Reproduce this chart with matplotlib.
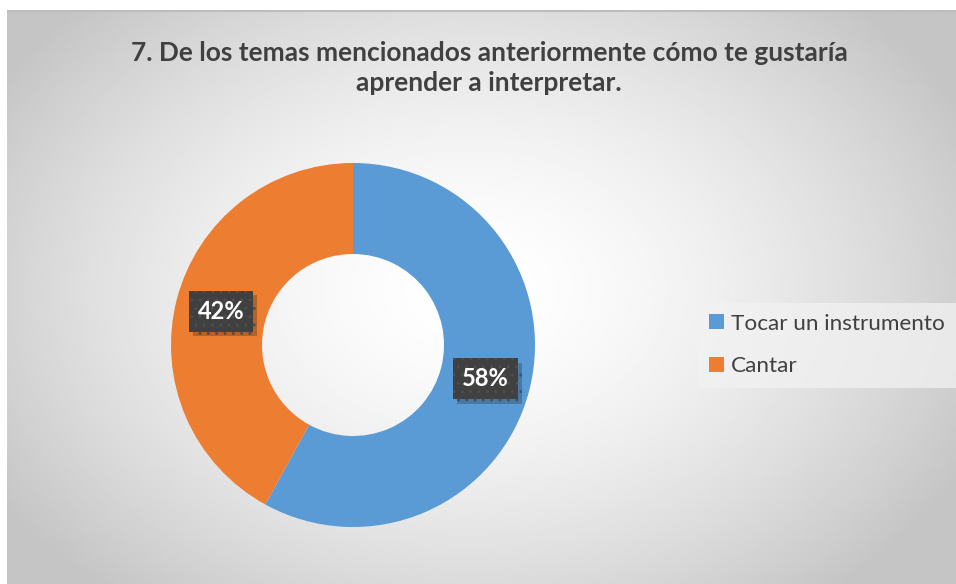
import numpy as np
import matplotlib
matplotlib.use("Agg")
import matplotlib.pyplot as plt
import matplotlib.patheffects as pe

# data
categories = ['Tocar un instrumento', 'Cantar']
values = [58, 42]
colors = ['#5B9BD5', '#ED7D31']
title = '7. De los temas mencionados anteriormente cómo te gustaría\naprender a interpretar.'

plt.rcParams['font.family'] = ['Lato', 'DejaVu Sans']

W, H = 956, 584
fig = plt.figure(figsize=(W / 100, H / 100), dpi=100)
fig.patch.set_facecolor('white')


def px_rect(x0, y0, x1, y1):
    # pixel box (top-left origin) -> figure fraction rect
    return [x0 / W, 1 - y1 / H, (x1 - x0) / W, (y1 - y0) / H]


# chart area with radial gradient
bg = fig.add_axes(px_rect(7, 10, W, H))
bg.set_axis_off()
gx, gy = np.meshgrid(np.linspace(7, W, 400), np.linspace(10, H, 260))
d = np.sqrt(((gx - 470) / 560) ** 2 + ((gy - 290) / 400) ** 2)
shade = 1 - 0.23 * np.clip(d, 0, 1) ** 1.6
bg.imshow(shade, cmap='gray', vmin=0, vmax=1, aspect='auto',
          extent=[0, 1, 0, 1], interpolation='bilinear')
bg.set_xlim(0, 1)
bg.set_ylim(0, 1)
bg.plot([0, 1], [0.999, 0.999], color='#bdbdbd', lw=1.5)

# title
fig.text(489 / W, 1 - 68 / H, title, ha='center', va='center',
         fontsize=19, fontweight='bold', color='#404040', linespacing=1.3)

# donut
cx, cy, r = 353, 345, 182
ax = fig.add_axes(px_rect(cx - r, cy - r, cx + r, cy + r))
wedges, _ = ax.pie(values, colors=colors, startangle=90, counterclock=False,
                   radius=1, wedgeprops=dict(width=0.5, edgecolor='none', linewidth=0))
ax.set_xlim(-1, 1)
ax.set_ylim(-1, 1)
ax.set_axis_off()

# data labels with dark dotted boxes and a small shadow
total = sum(values)
start = 90
for v in values:
    ang = np.deg2rad(start - v / total * 360 / 2)
    start -= v / total * 360
    lx, ly = 0.75 * np.cos(ang), 0.75 * np.sin(ang)
    t = ax.text(lx, ly, f'{v}%', ha='center', va='center', fontsize=17,
                fontweight='bold', color='white',
                bbox=dict(boxstyle='square,pad=0.38', fc='#404040', ec='#4e4e4e',
                          lw=0, hatch='..'))
    t.get_bbox_patch().set_path_effects(
        [pe.SimplePatchShadow(offset=(3, -3), shadow_rgbFace='black', alpha=0.22),
         pe.Normal()])

# legend
leg = fig.legend(wedges, categories, loc='center left',
                 bbox_to_anchor=(698 / W, 1 - 345 / H), fontsize=16.2,
                 frameon=True, handlelength=0.65, handleheight=0.65,
                 handletextpad=0.3, labelspacing=1.0, borderpad=0.5,
                 borderaxespad=0, fancybox=False, labelcolor='#404040')
leg.get_frame().set_facecolor('#f2f2f2')
leg.get_frame().set_edgecolor('none')
leg.get_frame().set_alpha(0.75)
for h in leg.legend_handles:
    h.set_edgecolor('none')

fig.savefig('out.png', dpi=100)
